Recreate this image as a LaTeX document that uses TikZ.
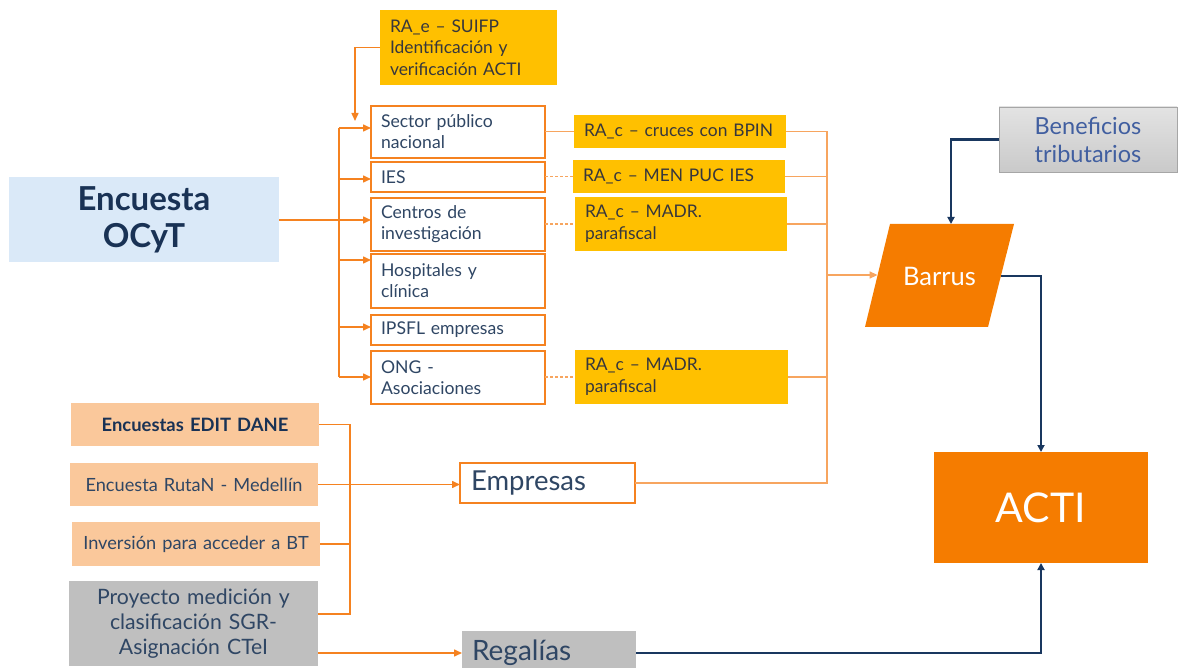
\documentclass[tikz,border=0pt]{standalone}
\usepackage{fontspec}
\setmainfont{Lato}
\usetikzlibrary{arrows.meta}
\definecolor{lor}{RGB}{245,130,32}
\definecolor{lorl}{RGB}{247,165,95}
\definecolor{gold}{RGB}{255,192,0}
\definecolor{peach}{RGB}{250,200,155}
\definecolor{gr}{RGB}{191,191,191}
\definecolor{lblue}{RGB}{218,233,248}
\definecolor{ofill}{RGB}{245,124,0}
\definecolor{navy}{RGB}{25,55,95}
\definecolor{tnavy}{RGB}{25,50,85}
\definecolor{slate}{RGB}{47,70,100}
\definecolor{tgray}{RGB}{55,55,60}
\definecolor{tblue}{RGB}{65,95,160}
\newcommand{\fs}[2]{\fontsize{#1}{#2}\selectfont}
\begin{document}
\begin{tikzpicture}[x=1pt,y=-1pt,
  box/.style={anchor=north west, inner xsep=10pt, inner ysep=0pt, outer sep=0pt},
  wbox/.style={box, draw=lor, line width=1.5pt, fill=white, align=left, text=slate, font=\fs{17.6}{21}},
  gbox/.style={box, fill=gold, align=left, text=tgray, font=\fs{17.4}{21.5}},
  pbox/.style={box, fill=peach, align=center, text=slate, font=\fs{18.2}{22}},
  arr/.style={draw=lor, line width=1.5pt, -{Triangle[length=8pt,width=7pt]}},
  oline/.style={draw=lor, line width=1.5pt},
  dline/.style={draw=lorl, line width=1.2pt, densely dashed},
  rline/.style={draw=lorl, line width=1.3pt},
  rarr/.style={draw=lorl, line width=1.3pt, -{Triangle[length=8pt,width=7pt]}},
  narr/.style={draw=navy, line width=2.2pt, -{Triangle[length=7pt,width=7pt]}},
]
\useasboundingbox (0,0) rectangle (1178,668);
\clip (0,0) rectangle (1178,668);

% top source
\node[gbox, minimum width=177, minimum height=75, text width=157] (rae) at (380,10)
  {RA\_e – SUIFP\\Identificación y\\verificación ACTI};

% Encuesta OCyT
\node[box, fill=lblue, minimum width=270, minimum height=85, text width=250, align=center,
  text=tnavy, font=\bfseries\fs{33}{37}] (ocyt) at (9,177) {Encuesta\\OCyT};

% white boxes
\node[wbox, minimum height=52, text width=154] (sp) at (371,106) {Sector público\\nacional};
\node[wbox, minimum height=30, text width=154] (ies) at (371,162) {IES};
\node[wbox, minimum height=53, text width=154] (ci) at (371,198) {Centros de\\investigación};
\node[wbox, minimum height=54, text width=154] (ho) at (371,254) {Hospitales y\\clínica};
\node[wbox, minimum height=30, text width=154] (ip) at (371,315) {IPSFL empresas};
\node[wbox, minimum height=53, text width=154] (ong) at (371,351) {ONG -\\Asociaciones};

% gold boxes
\node[gbox, minimum height=33, text width=192] (bpin) at (574,115) {RA\_c – cruces con BPIN};
\node[gbox, minimum height=33, text width=192] (men) at (573,160) {RA\_c – MEN PUC IES};
\node[gbox, minimum height=54, text width=192] (madr1) at (575,197) {RA\_c – MADR.\\parafiscal};
\node[gbox, minimum height=54, text width=193] (madr2) at (575,350) {RA\_c – MADR.\\parafiscal};

% left bottom sources
\node[pbox, minimum height=43, text width=228, font=\bfseries\fs{18.4}{21}, text=tnavy] (edit) at (71,403) {Encuestas EDIT DANE};
\node[pbox, minimum height=43, text width=228] (rutan) at (70,463) {Encuesta RutaN - Medellín};
\node[pbox, minimum height=44, text width=228] (inv) at (72,522) {Inversión para acceder a BT};
\node[pbox, fill=gr, minimum height=85, text width=229, font=\fs{21.2}{25}] (proj) at (69,581)
  {Proyecto medición y\\clasificación SGR-\\Asignación CTeI};

% Empresas / Regalias
\node[box, draw=lor, line width=1.5pt, fill=white, minimum height=40, text width=153, inner xsep=11pt,
  align=left, text=slate, font=\fs{27.5}{30}] (emp) at (460,463) {Empresas};
\node[box, fill=gr, minimum height=44, text width=154, align=left, text=slate, font=\fs{28}{30}] (reg) at (462,631) {Regalías};

% Beneficios
\node[box, draw=gray!70, line width=0.6pt, top color=gray!22, bottom color=gray!42, minimum height=65, text width=158,
  align=center, text=tblue, font=\fs{23.5}{28}] (ben) at (999,107) {Beneficios\\tributarios};

% Barrus parallelogram
\fill[ofill] (890,224) -- (1014,224) -- (988,327) -- (865,327) -- cycle;
\node[text=white, font=\fs{25.5}{30}] (barrus) at (939.5,276) {Barrus};
\coordinate (bin) at (877.6,275);
\coordinate (btop) at (951,224);
\coordinate (bout) at (1001,276);

% ACTI
\node[box, fill=ofill, minimum width=214, minimum height=111, text width=194, align=center,
  text=white, font=\fs{41}{44}] (acti) at (934,452) {ACTI};

% ---- connectors
\coordinate (raetip) at (355,121);
\draw[arr] (rae.west) -| (raetip);

\coordinate (t1) at (339,128);
\coordinate (t2) at (339,179);
\coordinate (t3) at (339,220);
\coordinate (t4) at (339,260);
\coordinate (t5) at (339,327);
\coordinate (t6) at (339,377);
\draw[oline] (t1) -- (t6);
\draw[oline] (ocyt.east |- t3) -- (t3);
\draw[arr] (t1) -- (sp.west |- t1);
\draw[arr] (t2) -- (ies.west |- t2);
\draw[arr] (t3) -- (ci.west |- t3);
\draw[arr] (t4) -- (ho.west |- t4);
\draw[arr] (t5) -- (ip.west |- t5);
\draw[arr] (t6) -- (ong.west |- t6);

\draw[rline] (sp.east |- bpin.west) -- (bpin.west);
\draw[dline] (ies.east |- men.west) -- (men.west);
\draw[dline] (ci.east |- madr1.west) -- (madr1.west);
\draw[dline] (ong.east |- madr2.west) -- (madr2.west);

\coordinate (rb) at (827,0);
\draw[rline] (bpin.east) -- (bpin.east -| rb) -- (emp.east -| rb) -- (emp.east);
\draw[rline] (men.east) -- (men.east -| rb);
\draw[rline] (madr1.east) -- (madr1.east -| rb);
\draw[rline] (madr2.east) -- (madr2.east -| rb);
\draw[rarr] (bin -| rb) -- (bin);

\coordinate (lb) at (350,0);
\coordinate (pt) at (318,614);
\draw[oline] (edit.east) -- (edit.east -| lb) -- (pt -| lb) -- (pt);
\draw[oline] (inv.east) -- (inv.east -| lb);
\draw[arr] (rutan.east) -- (rutan.east -| emp.west);
\draw[arr] (proj.east |- reg.west) -- (reg.west);

\draw[narr] (ben.west) -| (btop);
\draw[narr] (bout) -| (acti.north);
\draw[narr] (reg.east) -| (acti.south);
\end{tikzpicture}
\end{document}
